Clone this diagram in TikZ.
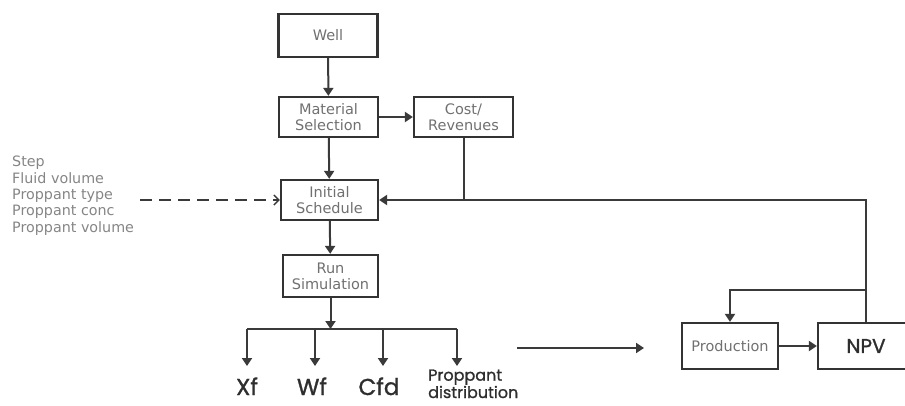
\documentclass[tikz,border=0pt]{standalone}
\usepackage{fontspec}
\setmainfont{DejaVu Sans}
\newfontfamily\popfont[FakeBold=1.2]{Poppins}
\usetikzlibrary{arrows.meta}
\definecolor{boxline}{HTML}{333333}
\definecolor{connline}{HTML}{3A3A3A}
\definecolor{boxtext}{HTML}{707070}
\definecolor{lefttext}{HTML}{858585}
\definecolor{outtext}{HTML}{2E2E2E}
\begin{document}
\begin{tikzpicture}[x=1pt,y=-1pt,
  procbox/.style={draw=boxline,line width=2.3pt,rectangle,inner sep=0pt,
    text=boxtext,align=center,font=\fontsize{14.5}{16}\selectfont},
  arr/.style={draw=connline,line width=2pt,-{Triangle[length=8pt,width=10pt]}},
  plain/.style={draw=connline,line width=2pt},
  outlab/.style={text=outtext,inner sep=0pt,font=\popfont\fontsize{23}{24}\selectfont}
]
\useasboundingbox (0,0) rectangle (905,405);
\clip (0,0) rectangle (905,405);

% boxes
\node[procbox,minimum width=99pt,minimum height=43pt] (well) at (328,35.5) {Well};
\node[procbox,minimum width=99pt,minimum height=40pt] (mat) at (328.5,117) {Material\\Selection};
\node[procbox,minimum width=99pt,minimum height=40pt] (cost) at (463.5,117) {Cost/\\Revenues};
\node[procbox,minimum width=97pt,minimum height=40pt] (init) at (329.5,200) {Initial\\Schedule};
\node[procbox,minimum width=95pt,minimum height=42pt] (run) at (330.5,276) {Run\\Simulation};
\node[procbox,minimum width=96pt,minimum height=46pt] (prod) at (730,346) {Production};
\node[procbox,minimum width=96pt,minimum height=46pt,text=outtext,font=\popfont\fontsize{20}{22}\selectfont] (npv) at (866,346) {NPV};

% left parameter list
\node[anchor=base west,inner sep=0pt,align=left,text=lefttext,
  font=\fontsize{14.3}{16.3}\selectfont] (params) at (12,232)
  {Step\\Fluid volume\\Proppant type\\Proppant conc\\Proppant volume};

% main chain
\draw[arr] (well) -- (mat);
\draw[arr] (mat) -- (cost);
\draw[arr] (mat) -- (init);
\draw[arr] (init) -- (run);

% dashed input
\coordinate (dstart) at (140,200);
\draw[draw=connline,line width=2pt,dash pattern=on 12pt off 7pt,
  -{Straight Barb[length=5pt,width=10pt,line width=1.4pt]}] (dstart) -- (init.west);

% feedback loop
\draw[arr] (npv.north) |- (init.east);
\draw[plain] (cost.south) -- (cost.south |- init.east);
\coordinate (br) at (866,290);
\draw[arr] (br) -| (prod.north);
\draw[arr] (prod) -- (npv);

% simulation outputs
\coordinate (bus) at (330.5,329);
\coordinate (busL) at (247,329);
\coordinate (busR) at (457,329);
\draw[arr] (run.south) -- (bus);
\draw[plain] (busL) -- (busR);
\node[outlab,anchor=base] (xf) at (247,395) {Xf};
\node[outlab,anchor=base] (wf) at (312,395) {Wf};
\node[outlab,anchor=base] (cfd) at (379,395) {Cfd};
\node[inner sep=0pt,anchor=base west,align=left,text=outtext,text depth=0pt,
  font=\popfont\fontsize{16}{15}\selectfont] (pdist) at (428,398) {Proppant\\distribution};
\coordinate (t1) at (247,366);
\coordinate (t2) at (315,366);
\coordinate (t3) at (383,366);
\coordinate (t4) at (457,366);
\draw[arr] (busL) -- (t1);
\draw[arr] (t2 |- bus) -- (t2);
\draw[arr] (t3 |- bus) -- (t3);
\draw[arr] (busR) -- (t4);

% forward arrow to production
\coordinate (fa) at (517,348);
\coordinate (fb) at (644,348);
\draw[arr] (fa) -- (fb);
\end{tikzpicture}
\end{document}
